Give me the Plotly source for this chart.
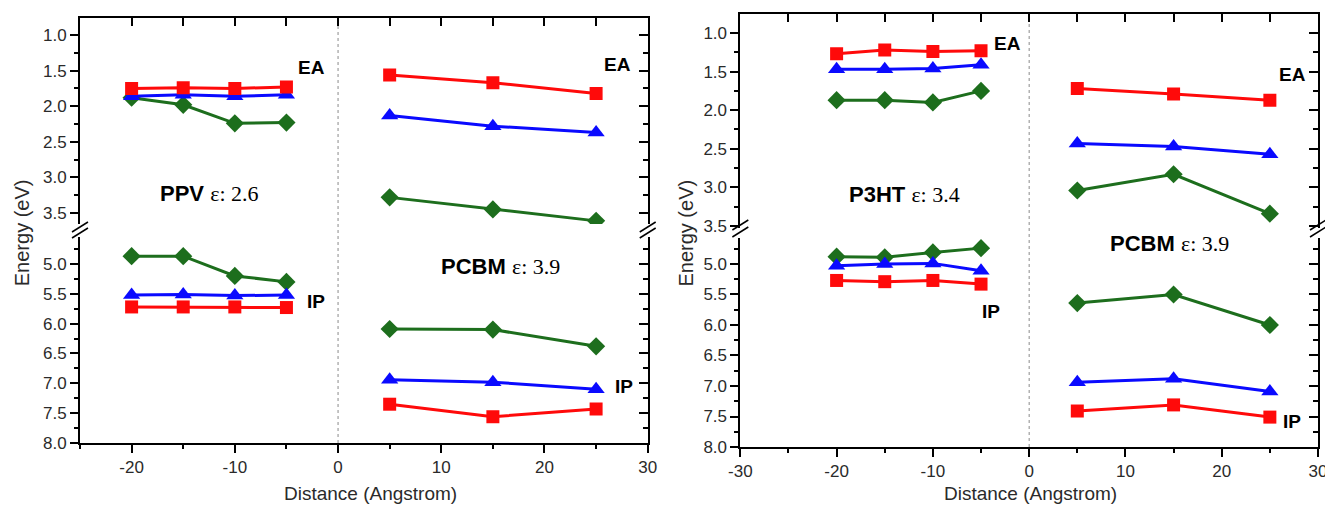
import plotly.graph_objects as go

# ---------------- data ----------------
dist_neg = [-20, -15, -10, -5]
dist_pos = [5, 15, 25]

# Left figure: PPV (x<0) / PCBM (x>0)
ppv_ea_red = [1.75, 1.74, 1.75, 1.73]
ppv_ea_blue = [1.86, 1.84, 1.86, 1.84]
ppv_ea_green = [1.88, 1.98, 2.24, 2.23]
ppv_ip_green = [4.87, 4.87, 5.20, 5.30]
ppv_ip_blue = [5.52, 5.51, 5.53, 5.52]
ppv_ip_red = [5.72, 5.72, 5.72, 5.73]
pcbm1_ea_red = [1.56, 1.67, 1.82]
pcbm1_ea_blue = [2.13, 2.28, 2.37]
pcbm1_ea_green = [3.28, 3.45, 3.61]
pcbm1_ip_green = [6.09, 6.10, 6.38]
pcbm1_ip_blue = [6.94, 6.98, 7.10]
pcbm1_ip_red = [7.35, 7.56, 7.43]

# Right figure: P3HT (x<0) / PCBM (x>0)
p3ht_ea_red = [1.27, 1.22, 1.24, 1.23]
p3ht_ea_blue = [1.47, 1.47, 1.46, 1.41]
p3ht_ea_green = [1.87, 1.87, 1.90, 1.75]
p3ht_ip_green = [4.88, 4.89, 4.81, 4.74]
p3ht_ip_blue = [5.03, 5.00, 4.99, 5.11]
p3ht_ip_red = [5.27, 5.29, 5.27, 5.33]
pcbm2_ea_red = [1.72, 1.79, 1.87]
pcbm2_ea_blue = [2.43, 2.47, 2.57]
pcbm2_ea_green = [3.04, 2.83, 3.34]
pcbm2_ip_green = [5.64, 5.50, 6.00]
pcbm2_ip_blue = [6.94, 6.88, 7.09]
pcbm2_ip_red = [7.41, 7.31, 7.51]

y_tick_labels = ["1.0", "1.5", "2.0", "2.5", "3.0", "3.5", "5.0", "5.5", "6.0", "6.5", "7.0", "7.5", "8.0"]
x_tick_labels_left = ["-20", "-10", "0", "10", "20", "30"]
x_tick_labels_right = ["-30", "-20", "-10", "0", "10", "20", "30"]

# ---------------- geometry (reference pixel coords; page body has 8px margin) ----------------
OFF = 8
W, H = 1333 - OFF, 508 - OFF
ML, MR, MT = 80 - OFF, 10, 14 - OFF
PW = W - ML - MR
PH = 433
MB = H - MT - PH

def px_x(px):
    return (px - OFF - ML) / PW

def px_y(py):
    return (MT + PH - (py - OFF)) / PH

RED, BLUE, GREEN = "#ff0a0a", "#0a0aff", "#1d6e1d"
SANS = "Liberation Sans, Arial, sans-serif"
style = {
    "red": dict(color=RED, symbol="square", size=13),
    "blue": dict(color=BLUE, symbol="triangle-up", size=15),
    "green": dict(color=GREEN, symbol="diamond", size=14),
}

fig = go.Figure()

def add(xs, ys, key, xa, ya):
    fig.add_trace(go.Scatter(
        x=xs, y=ys, mode="lines+markers", xaxis=xa, yaxis=ya,
        line=dict(color=style[key]["color"], width=3),
        marker=dict(symbol=style[key]["symbol"], size=style[key]["size"],
                    color=style[key]["color"], line=dict(width=0)),
        showlegend=False, hoverinfo="x+y"))

# left panel
add(dist_neg, ppv_ea_green, "green", "x", "y2")
add(dist_neg, ppv_ea_blue, "blue", "x", "y2")
add(dist_neg, ppv_ea_red, "red", "x", "y2")
add(dist_pos, pcbm1_ea_green, "green", "x", "y2")
add(dist_pos, pcbm1_ea_blue, "blue", "x", "y2")
add(dist_pos, pcbm1_ea_red, "red", "x", "y2")
add(dist_neg, ppv_ip_green, "green", "x", "y")
add(dist_neg, ppv_ip_red, "red", "x", "y")
add(dist_neg, ppv_ip_blue, "blue", "x", "y")
add(dist_pos, pcbm1_ip_green, "green", "x", "y")
add(dist_pos, pcbm1_ip_blue, "blue", "x", "y")
add(dist_pos, pcbm1_ip_red, "red", "x", "y")
# right panel
add(dist_neg, p3ht_ea_green, "green", "x2", "y4")
add(dist_neg, p3ht_ea_blue, "blue", "x2", "y4")
add(dist_neg, p3ht_ea_red, "red", "x2", "y4")
add(dist_pos, pcbm2_ea_green, "green", "x2", "y4")
add(dist_pos, pcbm2_ea_blue, "blue", "x2", "y4")
add(dist_pos, pcbm2_ea_red, "red", "x2", "y4")
add(dist_neg, p3ht_ip_green, "green", "x2", "y3")
add(dist_neg, p3ht_ip_red, "red", "x2", "y3")
add(dist_neg, p3ht_ip_blue, "blue", "x2", "y3")
add(dist_pos, pcbm2_ip_green, "green", "x2", "y3")
add(dist_pos, pcbm2_ip_blue, "blue", "x2", "y3")
add(dist_pos, pcbm2_ip_red, "red", "x2", "y3")

# dummy traces so overlay (frame) axes get drawn
for xa, ya in [("x3", "y2"), ("x4", "y4"), ("x", "y5"), ("x", "y6"), ("x2", "y7"), ("x2", "y8")]:
    fig.add_trace(go.Scatter(x=[], y=[], xaxis=xa, yaxis=ya, showlegend=False, hoverinfo="skip"))

# ---------------- axes ----------------
tickfont = dict(family=SANS, size=17, color="#2a2a2a")
LW = 1.8

def yax_left(rng, dom, anchor):
    return dict(domain=dom, range=rng, anchor=anchor, autorange=False,
                tickmode="array",
                tickvals=[float(t) for t in y_tick_labels], ticktext=y_tick_labels,
                ticks="outside", ticklen=8, tickwidth=1.5, tickcolor="black",
                minor=dict(ticks="outside", ticklen=4, tickwidth=1.5, tickcolor="black",
                           tickmode="linear", tick0=0, dtick=0.25),
                showline=True, linecolor="black", linewidth=LW,
                showgrid=False, zeroline=False, tickfont=tickfont)

def yax_right(rng, over, anchor):
    return dict(overlaying=over, side="right", range=rng, anchor=anchor, autorange=False,
                tickmode="linear", tick0=0, dtick=0.5,
                ticks="inside", ticklen=9, tickwidth=1.5, tickcolor="black",
                minor=dict(ticks="inside", ticklen=5, tickwidth=1.5, tickcolor="black",
                           tickmode="linear", tick0=0, dtick=0.25),
                showticklabels=False,
                showline=True, linecolor="black", linewidth=LW,
                showgrid=False, zeroline=False)

def xax_bottom(rng, dom, anchor, labels):
    return dict(domain=dom, range=rng, anchor=anchor, autorange=False,
                tickmode="array", tickvals=[float(t) for t in labels], ticktext=labels,
                ticks="outside", ticklen=8, tickwidth=1.5, tickcolor="black",
                minor=dict(ticks="outside", ticklen=4, tickwidth=1.5, tickcolor="black",
                           tickmode="linear", tick0=0, dtick=5),
                showline=True, linecolor="black", linewidth=LW,
                showgrid=False, zeroline=False, tickfont=tickfont)

def xax_top(rng, over, anchor):
    return dict(overlaying=over, side="top", range=rng, anchor=anchor, autorange=False,
                tickmode="linear", tick0=0, dtick=5,
                ticks="inside", ticklen=8, tickwidth=1.5, tickcolor="black",
                showticklabels=False,
                showline=True, linecolor="black", linewidth=LW,
                showgrid=False, zeroline=False)

# left panel geometry (reference px)
L_x0, L_x1 = 80, 650
L_bot_top_px, L_bot_bot_px = 237, 443
L_top_top_px, L_top_bot_px = 18, 224
L_bot_rng = [8.0, 4.548]
L_top_rng = [3.654, 0.761]
# right panel geometry
R_x0, R_x1 = 743, 1323
R_bot_top_px, R_bot_bot_px = 238, 447
R_top_top_px, R_top_bot_px = 14, 228
R_bot_rng = [8.0, 4.574]
R_top_rng = [3.526, 0.754]

L_dom_x = [px_x(L_x0), px_x(L_x1)]
R_dom_x = [px_x(R_x0), px_x(R_x1)]
L_dom_bot = [px_y(L_bot_bot_px), px_y(L_bot_top_px)]
L_dom_top = [px_y(L_top_bot_px), px_y(L_top_top_px)]
R_dom_bot = [px_y(R_bot_bot_px), px_y(R_bot_top_px)]
R_dom_top = [px_y(R_top_bot_px), px_y(R_top_top_px)]

L_xr = [-25, 30]
R_xr = [-30, 30]

fig.update_layout(
    width=W, height=H,
    margin=dict(l=ML, r=MR, t=MT, b=MB),
    paper_bgcolor="white", plot_bgcolor="white",
    xaxis=xax_bottom(L_xr, L_dom_x, "y", x_tick_labels_left),
    xaxis2=xax_bottom(R_xr, R_dom_x, "y3", x_tick_labels_right),
    xaxis3=xax_top(L_xr, "x", "y2"),
    xaxis4=xax_top(R_xr, "x2", "y4"),
    yaxis=yax_left(L_bot_rng, L_dom_bot, "x"),
    yaxis2=yax_left(L_top_rng, L_dom_top, "x"),
    yaxis3=yax_left(R_bot_rng, R_dom_bot, "x2"),
    yaxis4=yax_left(R_top_rng, R_dom_top, "x2"),
    yaxis5=yax_right(L_bot_rng, "y", "x"),
    yaxis6=yax_right(L_top_rng, "y2", "x"),
    yaxis7=yax_right(R_bot_rng, "y3", "x2"),
    yaxis8=yax_right(R_top_rng, "y4", "x2"),
)

# ---------------- shapes ----------------
shapes = []
shapes.append(dict(type="line", xref="x", yref="paper", x0=0, x1=0,
                   y0=px_y(L_bot_bot_px), y1=px_y(L_top_top_px),
                   line=dict(color="#8a8a8a", width=1, dash="dot"), layer="below"))
shapes.append(dict(type="line", xref="x2", yref="paper", x0=0, x1=0,
                   y0=px_y(R_bot_bot_px), y1=px_y(R_top_top_px),
                   line=dict(color="#8a8a8a", width=1, dash="dot"), layer="below"))

def brk(xpx, ypx):
    shapes.append(dict(type="line", xref="paper", yref="paper",
                       x0=px_x(xpx - 8), y0=px_y(ypx + 5), x1=px_x(xpx + 8), y1=px_y(ypx - 5),
                       line=dict(color="black", width=1.5)))
for xp in (L_x0, L_x1):
    brk(xp, 227)
    brk(xp, 233)
for xp in (R_x0, R_x1):
    brk(xp, 225)
    brk(xp, 232)
fig.update_layout(shapes=shapes)

# ---------------- annotations ----------------
def lab(text, x, y, xref, yref, size=19):
    fig.add_annotation(text=text, x=x, y=y, xref=xref, yref=yref, showarrow=False,
                       font=dict(family=SANS, size=size, color="black"),
                       xanchor="center", yanchor="middle")

def mat(name, eps, x, y, xref, yref):
    txt = ("<b>%s</b> <span style='font-family:Liberation Serif, Times New Roman, serif;"
           "font-size:22px'>ε: %s</span>") % (name, eps)
    fig.add_annotation(text=txt, x=x, y=y, xref=xref, yref=yref, showarrow=False,
                       font=dict(family=SANS, size=22, color="black"),
                       xanchor="center", yanchor="middle")

lab("<b>EA</b>", -2.6, 1.46, "x", "y2")
lab("<b>EA</b>", 27.1, 1.42, "x", "y2")
lab("<b>IP</b>", -2.1, 5.63, "x", "y")
lab("<b>IP</b>", 27.7, 7.06, "x", "y")
mat("PPV", "2.6", -12.45, 3.23, "x", "y2")
mat("PCBM", "3.9", 15.7, 5.05, "x", "y")

lab("<b>EA</b>", -2.2, 1.14, "x2", "y4")
lab("<b>EA</b>", 27.3, 1.54, "x2", "y4")
lab("<b>IP</b>", -4.0, 5.78, "x2", "y3")
lab("<b>IP</b>", 27.3, 7.59, "x2", "y3")
mat("P3HT", "3.4", -13.0, 3.09, "x2", "y4")
mat("PCBM", "3.9", 14.6, 4.67, "x2", "y3")

# axis titles
for xpx in (22, 688):
    fig.add_annotation(text="Energy (eV)", x=px_x(xpx), y=px_y(233), xref="paper", yref="paper",
                       showarrow=False, textangle=-90,
                       font=dict(family=SANS, size=20, color="#2a2a2a"),
                       xanchor="center", yanchor="middle")
for xpx in (372, 1034):
    fig.add_annotation(text="Distance (Angstrom)", x=px_x(xpx), y=px_y(494), xref="paper", yref="paper",
                       showarrow=False, font=dict(family=SANS, size=19, color="#2a2a2a"),
                       xanchor="center", yanchor="middle")

fig.write_html("out.html")
